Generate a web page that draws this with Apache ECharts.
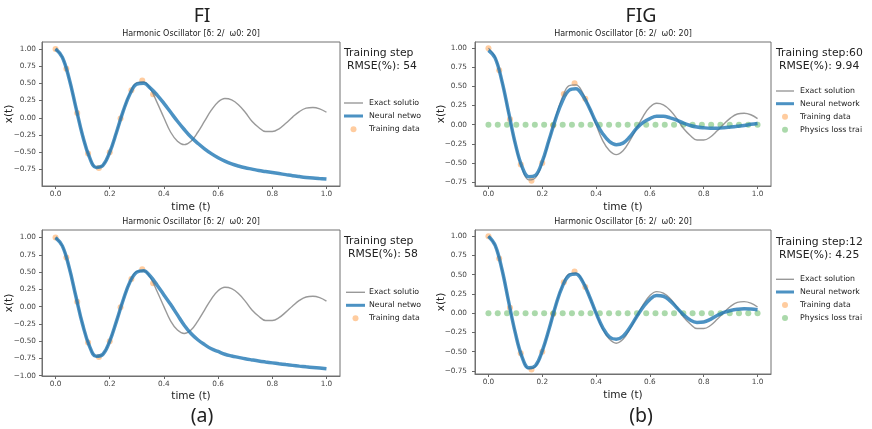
<!DOCTYPE html>
<html>
<head>
<meta charset="utf-8">
<script src="https://cdn.jsdelivr.net/npm/echarts@6/dist/echarts.min.js"></script>
<style>
  html, body { margin: 0; padding: 0; background: #fff; }
  #chart { width: 872px; height: 429px; }
</style>
</head>
<body>
<div id="chart"></div>
<script>
// time samples of the curves
const tCurve = [0, 0.025, 0.05, 0.075, 0.1, 0.125, 0.15, 0.175, 0.2, 0.225, 0.25, 0.275, 0.3, 0.325, 0.35,
  0.375, 0.4, 0.425, 0.45, 0.475, 0.5, 0.525, 0.55, 0.575, 0.6, 0.625, 0.65, 0.675, 0.7, 0.725, 0.75,
  0.775, 0.8, 0.825, 0.85, 0.875, 0.9, 0.925, 0.95, 0.975, 1.0]
// exact solution (grey)
const exactX = [1.00, 0.88, 0.57, 0.15, -0.26, -0.57, -0.72, -0.69, -0.50, -0.21, 0.10, 0.36, 0.51, 0.52, 0.42,
  0.22, 0.00, -0.21, -0.34, -0.39, -0.34, -0.21, -0.05, 0.11, 0.23, 0.28, 0.26, 0.19, 0.08, -0.05, -0.14,
  -0.20, -0.20, -0.16, -0.08, 0.01, 0.09, 0.14, 0.15, 0.13, 0.08]
// neural network output, one list per panel
const nnFiTop = [1.00, 0.88, 0.57, 0.15, -0.26, -0.57, -0.72, -0.69, -0.50, -0.21, 0.10, 0.35, 0.49, 0.50, 0.43,
  0.33, 0.21, 0.08, -0.05, -0.17, -0.28, -0.37, -0.45, -0.52, -0.58, -0.63, -0.67, -0.70, -0.725, -0.745, -0.765,
  -0.78, -0.795, -0.81, -0.825, -0.84, -0.853, -0.865, -0.875, -0.883, -0.89]
const nnFiBottom = [1.00, 0.88, 0.57, 0.15, -0.26, -0.57, -0.72, -0.69, -0.50, -0.21, 0.10, 0.36, 0.50, 0.52, 0.44,
  0.31, 0.17, 0.03, -0.12, -0.27, -0.39, -0.48, -0.55, -0.61, -0.65, -0.69, -0.715, -0.735, -0.755, -0.772, -0.788,
  -0.802, -0.815, -0.828, -0.84, -0.851, -0.862, -0.872, -0.881, -0.89, -0.90]
const nnFigTop = [0.97, 0.87, 0.57, 0.16, -0.25, -0.55, -0.68, -0.66, -0.48, -0.20, 0.08, 0.31, 0.45, 0.47, 0.38,
  0.22, 0.03, -0.12, -0.22, -0.26, -0.24, -0.16, -0.05, 0.03, 0.08, 0.11, 0.11, 0.09, 0.06, 0.02, -0.01,
  -0.03, -0.04, -0.045, -0.045, -0.04, -0.03, -0.02, -0.01, 0.005, 0.015]
const nnFigBottom = [1.00, 0.88, 0.57, 0.15, -0.26, -0.57, -0.71, -0.68, -0.49, -0.21, 0.10, 0.35, 0.49, 0.51, 0.41,
  0.22, 0.00, -0.19, -0.31, -0.34, -0.30, -0.19, -0.05, 0.08, 0.18, 0.23, 0.22, 0.16, 0.07, -0.02, -0.09,
  -0.12, -0.115, -0.08, -0.03, 0.01, 0.035, 0.05, 0.057, 0.053, 0.044]
// training data (orange)
const tTrain = [0, 0.04, 0.08, 0.12, 0.16, 0.2, 0.24, 0.28, 0.32, 0.36]
const xTrain = [1.00, 0.71, 0.07, -0.52, -0.73, -0.50, -0.01, 0.40, 0.54, 0.34]
// physics loss points (green)
const tPhys = [0, 0.0345, 0.069, 0.1034, 0.1379, 0.1724, 0.2069, 0.2414, 0.2759, 0.3103, 0.3448, 0.3793,
  0.4138, 0.4483, 0.4828, 0.5172, 0.5517, 0.5862, 0.6207, 0.6552, 0.6897, 0.7241, 0.7586, 0.7931, 0.8276,
  0.8621, 0.8966, 0.931, 0.9655, 1.0]
const xPhys = [0, 0, 0, 0, 0, 0, 0, 0, 0, 0, 0, 0, 0, 0, 0, 0, 0, 0, 0, 0, 0, 0, 0, 0, 0, 0, 0, 0, 0, 0]
// tick labels
const xTicks = [0, 0.2, 0.4, 0.6, 0.8, 1.0]
const yTicksA = [-0.75, -0.5, -0.25, 0, 0.25, 0.5, 0.75, 1.0]
const yTicksB = [-1.0, -0.75, -0.5, -0.25, 0, 0.25, 0.5, 0.75, 1.0]

const zip = (xs, ys) => xs.map((x, i) => [x, ys[i]])
const FONT = 'DejaVu Sans'
const FRAME = '#707070'

const panels = [
  { grid: { left: 42, top: 42, width: 298, height: 144 }, yMin: -0.99, yMax: 1.10, yTicks: yTicksA, nn: nnFiTop, phys: false, nameGapY: 27, nameGapX: 15.5, labelMargin: 3 },
  { grid: { left: 475, top: 42, width: 296, height: 144 }, yMin: -0.80, yMax: 1.08, yTicks: yTicksA, nn: nnFigTop, phys: true, nameGapY: 28, nameGapX: 15.5, labelMargin: 5 },
  { grid: { left: 42, top: 230, width: 298, height: 146 }, yMin: -1.005, yMax: 1.11, yTicks: yTicksB, nn: nnFiBottom, phys: false, nameGapY: 27, nameGapX: 14.5, labelMargin: 3 },
  { grid: { left: 475, top: 230, width: 296, height: 144 }, yMin: -0.79, yMax: 1.08, yTicks: yTicksA, nn: nnFigBottom, phys: true, nameGapY: 28, nameGapX: 15.5, labelMargin: 5 }
]

const fmt = (v, d) => (v < 0 ? '\u2212' : '') + Math.abs(v).toFixed(d)

const grid = [], xAxis = [], yAxis = [], series = []
panels.forEach((p, i) => {
  grid.push(Object.assign({ show: true, borderColor: FRAME, borderWidth: 1, backgroundColor: 'transparent' }, p.grid))
  xAxis.push({
    type: 'value', gridIndex: i, min: -0.05, max: 1.05,
    name: 'time (t)', nameLocation: 'middle', nameGap: p.nameGapX, nameMoveOverlap: false,
    nameTextStyle: { fontFamily: FONT, fontSize: 10.5, color: '#222' },
    splitLine: { show: false },
    axisLine: { show: true, onZero: false, lineStyle: { color: FRAME } },
    axisTick: { show: true, length: 3, lineStyle: { color: '#666' }, customValues: xTicks },
    axisLabel: { fontFamily: FONT, fontSize: 7.3, color: '#444', margin: 5, customValues: xTicks, formatter: v => fmt(v, 1) }
  })
  yAxis.push({
    type: 'value', gridIndex: i, min: p.yMin, max: p.yMax,
    name: 'x(t)', nameLocation: 'middle', nameGap: p.nameGapY, nameRotate: 90, nameMoveOverlap: false,
    nameTextStyle: { fontFamily: FONT, fontSize: 10.5, color: '#222' },
    splitLine: { show: false },
    axisLine: { show: true, onZero: false, lineStyle: { color: FRAME } },
    axisTick: { show: true, length: 3, lineStyle: { color: '#666' }, customValues: p.yTicks },
    axisLabel: { fontFamily: FONT, fontSize: 7.3, color: '#444', margin: p.labelMargin + 3, customValues: p.yTicks, formatter: v => fmt(v, 2) }
  })
  series.push({
    type: 'line', xAxisIndex: i, yAxisIndex: i, data: zip(tCurve, exactX),
    showSymbol: false, smooth: 0.4, lineStyle: { color: '#808080', width: 1.4, opacity: 0.8 }
  })
  series.push({
    type: 'line', xAxisIndex: i, yAxisIndex: i, data: zip(tCurve, p.nn),
    showSymbol: false, smooth: 0.4, lineStyle: { color: '#1f77b4', width: 3.5, opacity: 0.8 }
  })
  series.push({
    type: 'scatter', xAxisIndex: i, yAxisIndex: i, data: zip(tTrain, xTrain),
    symbolSize: 6, itemStyle: { color: '#ff7f0e', opacity: 0.4 }
  })
  if (p.phys) {
    series.push({
      type: 'scatter', xAxisIndex: i, yAxisIndex: i, data: zip(tPhys, xPhys),
      symbolSize: 6, itemStyle: { color: '#2ca02c', opacity: 0.4 }
    })
  }
})

function txt(text, x, y, size, opts) {
  return {
    type: 'text', x: x, y: y, silent: true,
    style: Object.assign({
      text: text, fontFamily: FONT, fontSize: size, fill: '#222',
      align: 'left', verticalAlign: 'middle', textAlign: 'left', textVerticalAlign: 'middle'
    }, opts || {})
  }
}
const center = { align: 'center', textAlign: 'center' }

// legend drawn by hand (matplotlib style, clipped like the source image)
function legend(x1, x2, tx, rows, labels) {
  const out = []
  const mx = (x1 + x2) / 2
  out.push({ type: 'line', silent: true, shape: { x1: x1, y1: rows[0], x2: x2, y2: rows[0] }, style: { stroke: '#808080', lineWidth: 1.4, opacity: 0.8 } })
  out.push({ type: 'line', silent: true, shape: { x1: x1, y1: rows[1], x2: x2, y2: rows[1] }, style: { stroke: '#1f77b4', lineWidth: 3, opacity: 0.8 } })
  out.push({ type: 'circle', silent: true, shape: { cx: mx, cy: rows[2], r: 3 }, style: { fill: '#ff7f0e', opacity: 0.4 } })
  if (rows[3]) out.push({ type: 'circle', silent: true, shape: { cx: mx, cy: rows[3], r: 3 }, style: { fill: '#2ca02c', opacity: 0.4 } })
  labels.forEach((l, k) => out.push(txt(l, tx, rows[k], 7.8)))
  return out
}

const subTitle = 'Harmonic Oscillator [\u03b4: 2/  \u03c90: 20]'
const graphic = [
  txt('FI', 202, 16, 19.5, Object.assign({ fontFamily: 'Noto Sans' }, center)),
  txt('FIG', 641, 16, 19.5, Object.assign({ fontFamily: 'Noto Sans' }, center)),
  txt('(a)', 202, 416, 19.5, Object.assign({ fontFamily: 'Noto Sans' }, center)),
  txt('(b)', 641, 416, 19.5, Object.assign({ fontFamily: 'Noto Sans' }, center)),
  txt(subTitle, 191, 34, 8, center),
  txt(subTitle, 623, 34, 8, center),
  txt(subTitle, 191, 222, 8, center),
  txt(subTitle, 623, 222, 8, center),
  txt('Training step', 344, 53, 10.8),
  txt('RMSE(%): 54', 347, 66, 10.8),
  txt('Training step:60', 776, 53, 10.8),
  txt('RMSE(%): 9.94', 779, 66, 10.8),
  txt('Training step', 344, 241, 10.8),
  txt('RMSE(%): 58', 348, 254, 10.8),
  txt('Training step:12', 776, 242, 10.8),
  txt('RMSE(%): 4.25', 779, 255, 10.8)
].concat(
  legend(344, 363, 369, [103, 116, 129.3], ['Exact solutio', 'Neural netwo', 'Training data']),
  legend(776, 794, 800, [91, 103.7, 116.7, 129.7], ['Exact solution', 'Neural network', 'Training data', 'Physics loss trai']),
  legend(346, 365, 369, [292.3, 305.3, 318.3], ['Exact solutio', 'Neural netwo', 'Training data']),
  legend(776, 794, 800, [279.3, 292, 305, 318], ['Exact solution', 'Neural network', 'Training data', 'Physics loss trai'])
)

const chart = echarts.init(document.getElementById('chart'))
chart.setOption({
  animation: false,
  backgroundColor: '#fff',
  grid: grid,
  xAxis: xAxis,
  yAxis: yAxis,
  series: series,
  graphic: graphic
})
</script>
</body>
</html>
